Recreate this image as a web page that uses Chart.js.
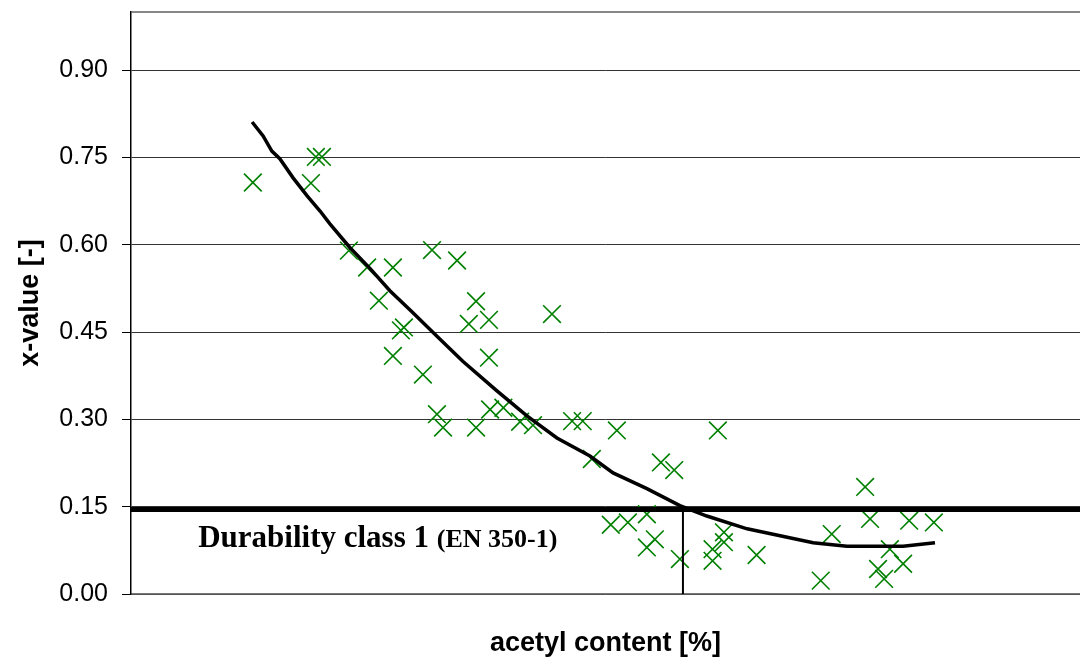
<!DOCTYPE html>
<html>
<head>
<meta charset="utf-8">
<script src="https://cdn.jsdelivr.net/npm/chart.js@4.4.1/dist/chart.umd.min.js"></script>
<style>
  html, body { margin: 0; padding: 0; background: #fff; }
  #wrap { width: 1080px; height: 657px; position: relative; }
</style>
</head>
<body>
<div id="wrap"><canvas id="chart"></canvas></div>
<script>
// measured samples: acetyl content [%] and x-value [-]
const acetyl = [3.21, 4.74, 4.87, 5.03, 5.74, 6.22, 6.90, 7.93, 8.59, 6.53,
  9.09, 7.11, 7.19, 8.90, 9.43, 11.09, 6.90, 9.43, 7.69, 8.06,
  8.22, 9.09, 9.46, 9.81, 10.25, 10.59, 11.62, 11.90, 12.80, 15.46,
  12.14, 13.96, 14.31, 13.59, 12.64, 13.09, 13.80, 13.59, 14.46, 15.32,
  15.32, 15.62, 15.62, 16.48, 19.34, 19.47, 20.50, 21.15, 18.46, 19.99,
  20.34, 19.68, 19.84, 18.17];
const xValue = [0.707, 0.706, 0.751, 0.751, 0.590, 0.561, 0.561, 0.591, 0.573, 0.504,
  0.503, 0.453, 0.458, 0.464, 0.471, 0.481, 0.409, 0.406, 0.377, 0.309,
  0.286, 0.286, 0.317, 0.320, 0.296, 0.290, 0.297, 0.297, 0.281, 0.281,
  0.232, 0.226, 0.213, 0.137, 0.119, 0.123, 0.094, 0.080, 0.060, 0.077,
  0.057, 0.106, 0.089, 0.067, 0.184, 0.129, 0.126, 0.123, 0.103, 0.077,
  0.052, 0.043, 0.026, 0.023];

// trend curve
const trendX = [3.19, 3.48, 3.71, 3.92, 4.27, 4.64, 4.98, 5.24, 5.77, 6.30,
  6.82, 7.40, 8.06, 8.74, 9.64, 10.43, 11.22, 12.09, 12.70, 13.59,
  14.46, 15.17, 16.23, 17.10, 17.97, 18.86, 20.34, 21.18];
const trendY = [0.811, 0.787, 0.761, 0.748, 0.715, 0.684, 0.658, 0.636, 0.595, 0.559,
  0.521, 0.485, 0.443, 0.400, 0.349, 0.306, 0.268, 0.237, 0.208, 0.181,
  0.152, 0.134, 0.112, 0.100, 0.088, 0.082, 0.082, 0.088];

const threshold = 0.145;      // durability class 1 limit
const crossAt = 14.54;        // acetyl content where curve meets the limit
const xRange = [0, 25];
const yTicks = [0, 0.15, 0.30, 0.45, 0.60, 0.75, 0.90];
const yMax = 1.0;

const labelMain = 'Durability class 1';
const labelSub = '(EN 350-1)';

const zip = (xs, ys) => xs.map((v, i) => ({ x: v, y: ys[i] }));

const classLabel = {
  id: 'classLabel',
  afterDatasetsDraw(chart) {
    const { ctx, scales } = chart;
    const px = scales.x.getPixelForValue(1.77);
    const py = scales.y.getPixelForValue(0.081);
    ctx.save();
    ctx.fillStyle = '#000';
    ctx.textBaseline = 'alphabetic';
    ctx.font = 'bold 31px "Liberation Serif", "Times New Roman", serif';
    ctx.fillText(labelMain, px, py);
    const w = ctx.measureText(labelMain + ' ').width;
    ctx.font = 'bold 26px "Liberation Serif", "Times New Roman", serif';
    ctx.fillText(labelSub, px + w, py);
    ctx.restore();
  }
};

const sansFont = '"Liberation Sans", Arial, sans-serif';

new Chart(document.getElementById('chart'), {
  type: 'scatter',
  data: {
    datasets: [
      {
        label: 'limit',
        type: 'line',
        data: [{ x: xRange[0], y: threshold }, { x: xRange[1], y: threshold }],
        borderColor: '#000',
        borderWidth: 5,
        pointRadius: 0
      },
      {
        label: 'cross',
        type: 'line',
        data: [{ x: crossAt, y: 0 }, { x: crossAt, y: threshold }],
        borderColor: '#000',
        borderWidth: 2,
        pointRadius: 0
      },
      {
        label: 'trend',
        type: 'line',
        data: zip(trendX, trendY),
        borderColor: '#000',
        borderWidth: 3.5,
        pointRadius: 0,
        tension: 0
      },
      {
        label: 'samples',
        data: zip(acetyl, xValue),
        pointStyle: 'crossRot',
        pointRadius: 12.5,
        pointBorderWidth: 1.6,
        borderColor: '#008000',
        backgroundColor: '#008000'
      }
    ]
  },
  options: {
    responsive: true,
    maintainAspectRatio: false,
    animation: false,
    events: [],
    layout: { autoPadding: false, padding: { top: 12, right: 0, bottom: 0, left: 0 } },
    plugins: {
      legend: { display: false },
      tooltip: { enabled: false }
    },
    scales: {
      x: {
        type: 'linear',
        min: xRange[0],
        max: xRange[1],
        ticks: { display: false },
        grid: { display: false },
        border: { display: true, color: '#777', width: 1.5 },
        title: {
          display: true,
          text: 'acetyl content [%]',
          color: '#000',
          font: { family: sansFont, size: 27, weight: 'bold', lineHeight: 1 },
          padding: { top: 0, bottom: 0 }
        },
        afterFit: (scale) => {
          scale.height = 63;
          scale.paddingLeft = 0;
          scale.paddingRight = 0;
        }
      },
      y: {
        min: 0,
        max: yMax,
        afterBuildTicks: (scale) => {
          scale.ticks = yTicks.concat([yMax]).map(v => ({ value: v }));
        },
        ticks: {
          color: '#000',
          padding: 14,
          font: { family: sansFont, size: 25 },
          callback: (v) => (v === yMax ? '' : Number(v).toFixed(2))
        },
        grid: {
          color: (ctx) => (ctx.tick && ctx.tick.value === yMax ? '#888' : '#333'),
          lineWidth: (ctx) => (ctx.tick && ctx.tick.value === yMax ? 2 : 1),
          tickColor: (ctx) => (ctx.tick && ctx.tick.value === yMax ? 'rgba(0,0,0,0)' : '#000'),
          tickLength: 9
        },
        border: { display: true, color: '#000', width: 1.5 },
        title: {
          display: true,
          text: 'x-value [-]',
          color: '#000',
          font: { family: sansFont, size: 27, weight: 'bold', lineHeight: 1 },
          padding: { top: 17, bottom: 0 }
        },
        afterFit: (scale) => {
          scale.width = 131;
          scale.paddingTop = 0;
          scale.paddingBottom = 0;
        }
      }
    }
  },
  plugins: [classLabel]
});
</script>
</body>
</html>
